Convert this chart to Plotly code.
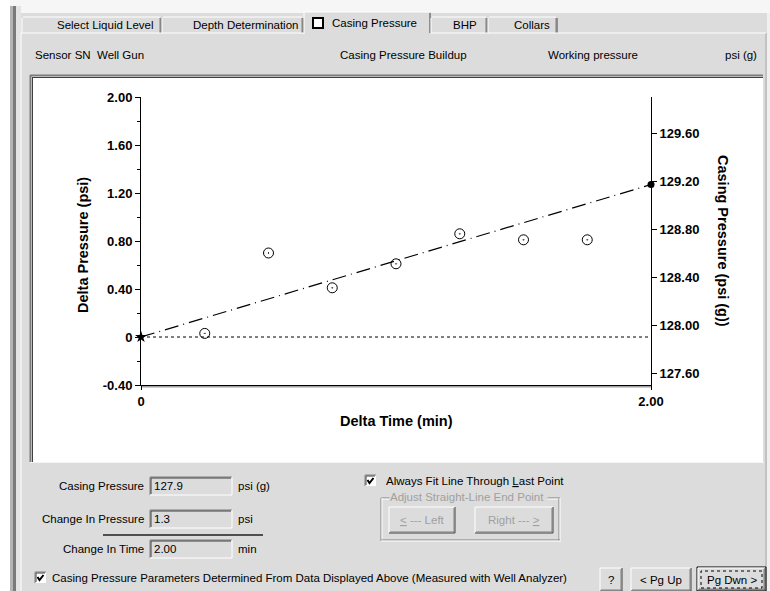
import plotly.graph_objects as go

# ---------------- data ----------------
delta_time = [0.0, 0.25, 0.50, 0.75, 1.00, 1.25, 1.50, 1.75, 2.00]
delta_pressure = [0.0, 0.03, 0.70, 0.41, 0.61, 0.86, 0.81, 0.81, 1.27]
base_casing_pressure = 127.9

left_ticks = [-0.4, 0.0, 0.4, 0.8, 1.2, 1.6, 2.0]
left_tick_labels = ["-0.40", "0", "0.40", "0.80", "1.20", "1.60", "2.00"]
left_minor = [-0.2, 0.2, 0.6, 1.0, 1.4, 1.8]
right_ticks = [127.6, 128.0, 128.4, 128.8, 129.2, 129.6]
right_tick_labels = ["127.60", "128.00", "128.40", "128.80", "129.20", "129.60"]
x_ticks = [0.0, 2.0]
x_tick_labels = ["0", "2.00"]
y_range = [-0.4, 2.0]
x_range = [0.0, 2.0]

tab_labels = ["Select Liquid Level", "Depth Determination", "Casing Pressure", "BHP", "Collars"]
header_labels = ["Sensor SN  Well Gun", "Casing Pressure Buildup", "Working pressure", "psi (g)"]
field_labels = ["Casing Pressure", "Change In Pressure", "Change In Time"]
field_values = ["127.9", "1.3", "2.00"]
field_units = ["psi (g)", "psi", "min"]

# ---------------- geometry helpers (pixel -> paper) ----------------
W, H = 770, 591
ML, MR, MT, MB = 141, 119, 97, 206
PW, PH = W - ML - MR, H - MT - MB

def X(x):
    return (x - ML) / PW

def Y(y):
    return (H - MB - y) / PH

PANEL = "#dcdcdc"
DARK = "#808080"
UIF = "Liberation Sans"
UIS = 11.5
shapes = []
annots = []

def rect(x0, y0, x1, y1, fill=None, line=None, lw=1, dash=None):
    d = dict(type="rect", xref="paper", yref="paper", x0=X(x0), x1=X(x1), y0=Y(y1), y1=Y(y0),
             layer="below", line=dict(width=lw if line else 0, color=line or "rgba(0,0,0,0)"))
    if dash:
        d["line"]["dash"] = dash
    if fill:
        d["fillcolor"] = fill
    shapes.append(d)

def seg(x0, y0, x1, y1, color, lw=1, dash=None):
    d = dict(type="line", xref="paper", yref="paper", x0=X(x0), x1=X(x1), y0=Y(y0), y1=Y(y1),
             layer="below", line=dict(color=color, width=lw))
    if dash:
        d["line"]["dash"] = dash
    shapes.append(d)

def text(x, y, s, anchor="left", size=UIS, color="black", family=UIF, bg=None, bold=False, angle=0):
    a = dict(xref="paper", yref="paper", x=X(x), y=Y(y), text=s, showarrow=False,
             xanchor=anchor, yanchor="middle", textangle=angle,
             font=dict(family=family, size=size, color=color, weight="bold" if bold else "normal"))
    if bg:
        a["bgcolor"] = bg
        a["borderpad"] = 0
    annots.append(a)

def sunken(x0, y0, x1, y1, fill=PANEL):
    rect(x0, y0, x1, y1, fill)
    seg(x0, y0, x1, y0, DARK, 1)
    seg(x0, y0, x0, y1, DARK, 1)
    seg(x0 + 1, y0 + 1, x1 - 1, y0 + 1, "#404040", 1)
    seg(x0 + 1, y0 + 1, x0 + 1, y1 - 1, "#404040", 1)
    seg(x0, y1, x1, y1, "#ffffff", 1)
    seg(x1, y0, x1, y1, "#ffffff", 1)

def raised(x0, y0, x1, y1):
    rect(x0, y0, x1, y1, PANEL)
    seg(x0, y0, x1, y0, "#ffffff", 1)
    seg(x0, y0, x0, y1, "#ffffff", 1)
    seg(x0, y1, x1, y1, "#404040", 1)
    seg(x1, y0, x1, y1, "#404040", 1)
    seg(x0 + 1, y1 - 1, x1 - 1, y1 - 1, DARK, 1)
    seg(x1 - 1, y0 + 1, x1 - 1, y1 - 1, DARK, 1)

def checkbox(x0, y0):
    rect(x0, y0, x0 + 11, y0 + 11, "#ffffff")
    seg(x0, y0, x0 + 11, y0, DARK, 1)
    seg(x0, y0, x0, y0 + 11, DARK, 1)
    seg(x0 + 1, y0 + 1, x0 + 10, y0 + 1, "#404040", 1)
    seg(x0 + 1, y0 + 1, x0 + 1, y0 + 10, "#404040", 1)
    shapes.append(dict(type="path", xref="paper", yref="paper", layer="below",
                       path="M %f,%f L %f,%f L %f,%f" % (X(x0 + 2.5), Y(y0 + 5), X(x0 + 4.5), Y(y0 + 8),
                                                         X(x0 + 8.5), Y(y0 + 3)),
                       line=dict(color="black", width=2)))

# ---------------- window chrome ----------------
rect(0, 0, W, 13, "#f6f6f6")
rect(0, 0, 10, H, "#ffffff")
rect(10, 6, 13, H, "#b4b4b4")
rect(13, 6, 16, H, "#7a7a7a")
rect(16, 6, 21, H, "#e4e4e4")
seg(21, 33, 21, H, "#ffffff", 1)
seg(766, 33, 766, H, "#a8a8a8", 1)
rect(767, 13, W, H, "#f0f0f0")

# tabs
tab_edges = [(22, 162), (162, 304), (304, 431), (431, 488), (488, 558)]
tab_centers = [105, 245, 378, 465, 532]
for i, ((a, b), lab) in enumerate(zip(tab_edges, tab_labels)):
    if i == 2:
        top = 12
        rect(a, top, b, 34, PANEL)
        seg(a, top, b - 1, top, "#ffffff", 1)
        seg(a, top, a, 34, "#ffffff", 1)
        seg(b - 1, top + 1, b - 1, 33, "#404040", 1)
        rect(313, 18, 323, 28, "#ffffff", "black", 2)
        text(330, 23, lab)
    else:
        top = 17
        rect(a, top, b, 33, PANEL)
        seg(a + 1, top, b - 2, top, "#ffffff", 1)
        seg(a, top + 1, a, 33, "#ffffff", 1)
        seg(b - 1, top + 1, b - 1, 33, "#404040", 1)
        seg(b - 2, top + 1, b - 2, 33, DARK, 1)
        text(tab_centers[i], 25, lab, anchor="center")
seg(21, 33, 304, 33, "#ffffff", 1)
seg(431, 33, 766, 33, "#ffffff", 1)

# header row
text(33, 55, header_labels[0])
text(403, 55, header_labels[1], anchor="center")
text(593, 55, header_labels[2], anchor="center")
text(741, 55, header_labels[3], anchor="center")

# plot frame (white box)
rect(30, 75, 763, 462, "#ffffff")
seg(30, 75.5, 763, 75.5, "#7a7a7a", 2)
seg(30.5, 75, 30.5, 462, "#7a7a7a", 2)
seg(32, 77.5, 763, 77.5, "#404040", 1)
seg(32.5, 77, 32.5, 462, "#404040", 1)
seg(30, 462.5, 764, 462.5, "#f4f4f4", 1)

# bottom-axis shadow
seg(141, 386.5, 651, 386.5, "#a0a0a0", 2)

# bottom fields
rows_y = [486, 519, 549]
for lab, val, unit, yy in zip(field_labels, field_values, field_units, rows_y):
    text(146, yy, lab, anchor="right")
    sunken(150, yy - 9, 232, yy + 9)
    text(152, yy, val)
    text(236, yy, unit)
seg(103, 535, 263, 535, "#202020", 1.5)

checkbox(35, 572)
text(50, 578, "Casing Pressure Parameters Determined From Data Displayed Above (Measured with Well Analyzer)")

checkbox(365, 475)
text(384, 481, "Always Fit Line Through <u>L</u>ast Point")

# group box
seg(381, 498, 560, 498, DARK, 1)
seg(381, 499, 560, 499, "#ffffff", 1)
seg(381, 498, 381, 541, DARK, 1)
seg(382, 498, 382, 541, "#ffffff", 1)
seg(559, 498, 559, 541, DARK, 1)
seg(560, 498, 560, 542, "#ffffff", 1)
seg(381, 540, 560, 540, DARK, 1)
seg(381, 541, 560, 541, "#ffffff", 1)
text(389, 497, "Adjust Straight-Line End Point ", anchor="left", color="#a0a0a0", bg=PANEL)
raised(389, 507, 455, 533)
text(422, 520, "<u><</u> --- Left", anchor="center", color="#a0a0a0")
raised(475, 507, 553, 533)
text(514, 520, "Right --- <u>></u>", anchor="center", color="#a0a0a0")

# nav buttons
raised(600, 568, 622, 591)
text(611, 580, "?", anchor="center")
raised(631, 568, 691, 591)
text(661, 580, "< Pg Up", anchor="center")
rect(697, 567, 766, 591, PANEL, "black", 1)
raised(698, 568, 765, 590)
rect(701, 571, 762, 588, None, "black", 1, dash="dot")
text(731.5, 580, "Pg Dwn >", anchor="center")

# axis titles
text(83, 245, "Delta Pressure (psi)", anchor="center", size=14.5, bold=True, angle=-90)
text(723, 241, "Casing Pressure (psi (g))", anchor="center", size=14.5, bold=True, angle=90)
text(396, 421, "Delta Time (min)", anchor="center", size=14.5, bold=True)

# ---------------- traces ----------------
fig = go.Figure()
fig.add_trace(go.Scatter(x=[delta_time[0], delta_time[-1]], y=[0, 0], mode="lines",
                         line=dict(color="black", width=1, dash="3px,3px"), hoverinfo="skip"))
fig.add_trace(go.Scatter(x=[delta_time[0], delta_time[-1]], y=[delta_pressure[0], delta_pressure[-1]],
                         mode="lines", line=dict(color="black", width=1.2, dash="14px,5px,1px,5px"),
                         hoverinfo="skip"))
fig.add_trace(go.Scatter(x=delta_time[1:-1], y=delta_pressure[1:-1], mode="markers",
                         marker=dict(symbol="circle-open-dot", size=10, color="black",
                                     line=dict(width=1, color="black"))))
fig.add_trace(go.Scatter(x=[delta_time[0]], y=[delta_pressure[0]], mode="markers", cliponaxis=False,
                         marker=dict(symbol="star", size=9, color="black")))
fig.add_trace(go.Scatter(x=[delta_time[-1]], y=[delta_pressure[-1]], mode="markers", cliponaxis=False,
                         marker=dict(symbol="circle", size=7, color="black")))
fig.add_trace(go.Scatter(x=[delta_time[0], delta_time[-1]],
                         y=[base_casing_pressure + delta_pressure[0], base_casing_pressure + delta_pressure[-1]],
                         yaxis="y2", mode="markers", marker=dict(opacity=0), hoverinfo="skip"))

tickfont = dict(family="Liberation Sans", size=13, color="black", weight="bold")
fig.update_layout(
    width=W, height=H, autosize=False,
    margin=dict(l=ML, r=MR, t=MT, b=MB, pad=0),
    paper_bgcolor=PANEL, plot_bgcolor="rgba(0,0,0,0)",
    showlegend=False,
    shapes=shapes, annotations=annots,
    xaxis=dict(range=x_range, tickmode="array", tickvals=x_ticks, ticktext=x_tick_labels,
               showline=True, linecolor="black", linewidth=1, ticks="outside", ticklen=4,
               tickcolor="black", showgrid=False, zeroline=False, tickfont=tickfont, fixedrange=True),
    yaxis=dict(range=y_range, tickmode="array", tickvals=left_ticks, ticktext=left_tick_labels,
               showline=True, linecolor="black", linewidth=1, ticks="outside", ticklen=5,
               tickcolor="black", showgrid=False, zeroline=False, tickfont=tickfont,
               minor=dict(tickmode="array", tickvals=left_minor, ticks="outside", ticklen=3,
                          tickcolor="black", showgrid=False),
               fixedrange=True),
    yaxis2=dict(range=[y_range[0] + base_casing_pressure, y_range[1] + base_casing_pressure],
                overlaying="y", side="right", anchor="x", tickmode="array",
                tickvals=right_ticks, ticktext=right_tick_labels,
                showline=True, linecolor="black", linewidth=1, ticks="outside", ticklen=5,
                tickcolor="black", showgrid=False, zeroline=False, tickfont=tickfont, fixedrange=True),
)

fig.write_html("out.html", config={"displayModeBar": False})
